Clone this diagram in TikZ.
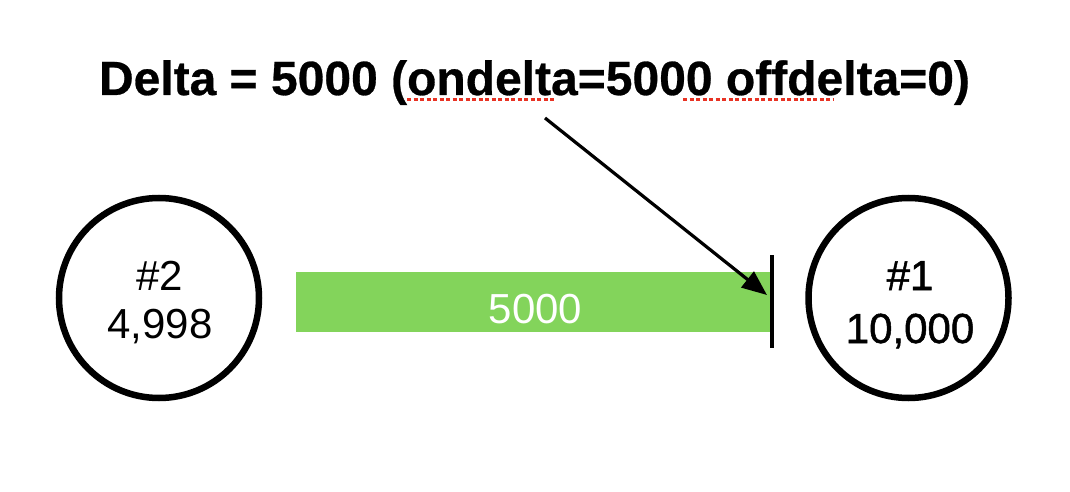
\documentclass[tikz,border=0pt]{standalone}
\usepackage{fontspec}
\setmainfont{Liberation Sans}
\newfontfamily\heavyfont[FakeBold=1.2]{Liberation Sans}
\newfontfamily\titlefont[FakeBold=0.6]{Liberation Sans}
\usetikzlibrary{arrows.meta}
\definecolor{barg}{RGB}{131,212,91}
\definecolor{squig}{RGB}{232,50,35}
\tikzset{
  peer/.style={circle, draw=black, line width=6.5pt, minimum size=200pt, inner sep=0pt},
  lbl/.style={font=\fontsize{42}{50}\selectfont, inner sep=0pt, anchor=base},
  hlbl/.style={font=\fontsize{42}{50}\selectfont\heavyfont, inner sep=0pt, anchor=base},
  ttl/.style={font=\fontsize{48}{58}\selectfont\titlefont\bfseries, inner sep=0pt, anchor=base},
  chan/.style={fill=barg, draw=none, minimum width=475pt, minimum height=60pt, inner sep=0pt, anchor=north west},
  spell/.style={draw=squig, line width=3pt, dash pattern=on 4pt off 2.5pt},
  ptr/.style={draw=black, line width=3.2pt, -{Triangle[length=25pt,width=20pt]}},
  stopbar/.style={draw=black, line width=4.5pt}
}
\begin{document}
\begin{tikzpicture}[x=1pt,y=-1pt]
\useasboundingbox (0,0) rectangle (1070,492);
% title
\node[ttl] (title) at (534.5,95) {Delta = 5000 (ondelta=5000 offdelta=0)};
\coordinate (u1a) at (407,100);
\coordinate (u1b) at (555,100);
\coordinate (u2a) at (683,100);
\coordinate (u2b) at (833,100);
\draw[spell] (u1a) -- (u1b);
\draw[spell] (u2a) -- (u2b);
% peers
\node[peer] (p2) at (159,298) {};
\node[lbl] (p2a) at (160,290) {\#2};
\node[lbl] (p2b) at (160,338) {4,998};
\node[peer] (p1) at (908.5,298) {};
\node[hlbl] (p1a) at (910,290) {\#1};
\node[hlbl] (p1b) at (910,343) {10,000};
% channel bar
\node[chan] (bar) at (296,272) {};
\node[lbl, text=white] (barlbl) at (535.5,323) {5000};
% stop line
\coordinate (st) at (772,255);
\coordinate (sb) at (772,348);
\draw[stopbar] (st) -- (sb);
% pointer
\coordinate (ps) at (545,118);
\coordinate (pe) at (767,295);
\draw[ptr] (ps) -- (pe);
\end{tikzpicture}
\end{document}
